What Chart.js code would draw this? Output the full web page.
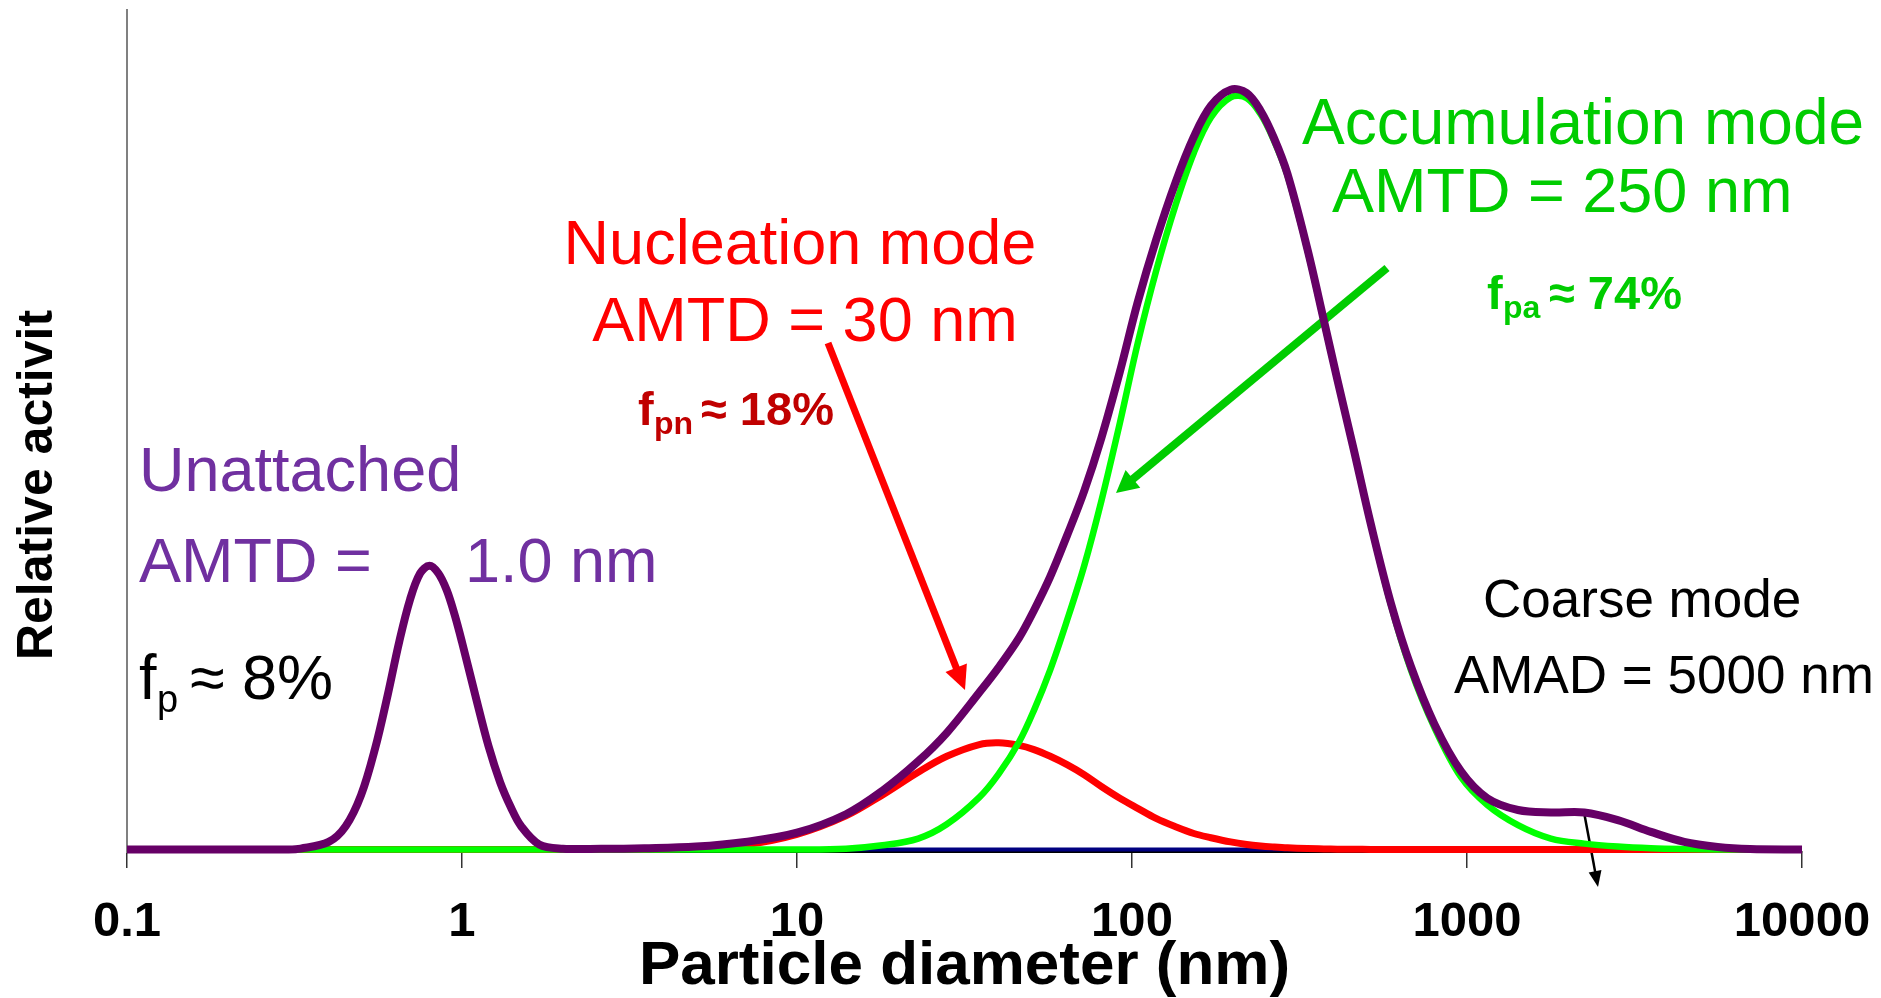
<!DOCTYPE html>
<html>
<head>
<meta charset="utf-8">
<script src="https://cdn.jsdelivr.net/npm/chart.js@4.4.1/dist/chart.umd.min.js"></script>
<style>
  html, body { margin: 0; padding: 0; background: #fff; }
  canvas { display: block; }
</style>
</head>
<body>
<canvas id="myChart" width="1881" height="998"></canvas>
<script>
const fontFamily = "'Liberation Sans', Arial, sans-serif";

// particle diameter (nm)
const diameters = [
  0.1, 0.2, 0.3, 0.33, 0.4, 0.45, 0.5, 0.55, 0.6, 0.65, 0.7, 0.75, 0.8, 0.85,
  0.9, 0.95, 1, 1.1, 1.2, 1.3, 1.4, 1.5, 1.7, 2, 2.6, 3.5, 5, 7, 10, 14, 18, 23,
  28, 35, 40, 46, 51, 57, 64, 72, 81, 92, 104, 118, 135, 153, 172, 197, 220, 242,
  265, 291, 334, 374, 410, 460, 516, 593, 680, 800, 960, 1150, 1420, 1780, 2240,
  2820, 3540, 4450, 5600, 7000, 10000
];

const totalActivity = [
  0, 0, 0, 0.1, 0.9, 2.8, 6.5, 12.0, 18.4, 24.8, 29.8, 32.9, 33.8, 32.9,
  30.9, 28.0, 24.7, 18.1, 12.3, 8.0, 5.0, 2.8, 0.6, 0.1, 0.08, 0.15, 0.35, 0.9, 2.0, 4.2, 7.0, 10.5,
  13.9, 18.7, 21.7, 25.2, 28.5, 32.5, 37.4, 42.7, 49.0, 56.9, 65.2, 72.6, 79.5, 84.9, 88.6, 90.5, 90.1, 88.0,
  84.8, 80.5, 71.5, 63.0, 56.0, 47.5, 38.8, 29.3, 21.8, 14.9, 9.3, 6.1, 4.7, 4.4, 4.4,
  3.5, 2.1, 0.9, 0.3, 0.05, 0
];

const accumulationMode = [
  0, 0, 0, 0, 0, 0, 0, 0, 0, 0, 0, 0, 0, 0,
  0, 0, 0, 0, 0, 0, 0, 0, 0, 0, 0, 0, 0, 0, 0, 0.1, 0.5, 1.3,
  3.0, 6.2, 9.0, 12.8, 16.6, 21.4, 27.3, 33.8, 41.5, 50.8, 60.3, 68.9, 76.8, 83.0, 87.2, 89.6, 89.5, 87.6,
  84.5, 80.3, 71.4, 62.9, 56.0, 47.5, 38.8, 29.1, 21.4, 14.5, 8.6, 5.3, 2.9, 1.3, 0.7,
  0.35, 0.15, 0.05, 0, 0, 0
];

const nucleationMode = [
  0, 0, 0, 0, 0, 0, 0, 0, 0, 0, 0, 0, 0, 0,
  0, 0, 0, 0, 0, 0, 0, 0, 0, 0, 0.01, 0.03, 0.15, 0.55, 1.8, 4.0, 6.5, 9.2,
  11.1, 12.5, 12.7, 12.4, 11.9, 11.1, 10.1, 8.9, 7.5, 6.1, 4.9, 3.7, 2.7, 1.9, 1.4, 0.9, 0.6, 0.42,
  0.3, 0.2, 0.11, 0.07, 0.04, 0.02, 0.01, 0, 0, 0, 0, 0, 0, 0, 0,
  0, 0, 0, 0, 0, 0
];

const baselineDiameters = [0.1, 10000];
const baselineValues = [0, 0];

const tickValues = [0.1, 1, 10, 100, 1000, 10000];
const tickLabels = ["0.1", "1", "10", "100", "1000", "10000"];

function toPoints(xs, ys) {
  return xs.map((x, i) => ({ x: x, y: ys[i] }));
}

function font(size, bold) {
  return (bold ? "bold " : "") + size + "px " + fontFamily;
}

function text(ctx, str, x, y, size, color, bold, align) {
  ctx.font = font(size, bold);
  ctx.fillStyle = color;
  ctx.textAlign = align || "left";
  ctx.textBaseline = "alphabetic";
  ctx.fillText(str, x, y);
}

function arrow(ctx, x1, y1, x2, y2, color, width, headLen, headWidth) {
  const ang = Math.atan2(y2 - y1, x2 - x1);
  const cos = Math.cos(ang);
  const sin = Math.sin(ang);
  const bx = x2 - headLen * cos;
  const by = y2 - headLen * sin;
  ctx.save();
  ctx.strokeStyle = color;
  ctx.fillStyle = color;
  ctx.lineWidth = width;
  ctx.lineCap = "butt";
  ctx.beginPath();
  ctx.moveTo(x1, y1);
  ctx.lineTo(bx + cos, by + sin);
  ctx.stroke();
  ctx.beginPath();
  ctx.moveTo(x2, y2);
  ctx.lineTo(bx + (headWidth / 2) * sin, by - (headWidth / 2) * cos);
  ctx.lineTo(bx - (headWidth / 2) * sin, by + (headWidth / 2) * cos);
  ctx.closePath();
  ctx.fill();
  ctx.restore();
}

const annotations = {
  id: "annotations",
  beforeDatasetsDraw(chart) {
    const ctx = chart.ctx;
    arrow(ctx, 828, 343, 965, 690, "#ff0000", 7, 24, 23);
    arrow(ctx, 1387, 268, 1116, 493, "#00cc00", 8, 22, 23);
    arrow(ctx, 1584, 812, 1598, 887, "#000000", 2.5, 16, 13);
  },
  afterDraw(chart) {
    const ctx = chart.ctx;
    ctx.save();

    // y axis title (clipped in the original)
    ctx.save();
    ctx.translate(52, 485);
    ctx.rotate(-Math.PI / 2);
    text(ctx, "Relative activit", 0, 0, 50, "#000", true, "center");
    ctx.restore();

    // unattached
    text(ctx, "Unattached", 139, 491, 63, "#7030a0");
    text(ctx, "AMTD =", 139, 582, 63, "#7030a0");
    text(ctx, "1.0 nm", 465, 582, 63, "#7030a0");
    text(ctx, "f", 139, 699, 63, "#000");
    text(ctx, "p", 157, 712, 38, "#000");
    text(ctx, "\u2248 8%", 190, 699, 63, "#000");

    // nucleation
    text(ctx, "Nucleation mode", 800, 264, 63, "#ff0000", false, "center");
    text(ctx, "AMTD = 30 nm", 805, 341, 63, "#ff0000", false, "center");
    text(ctx, "f", 638, 425, 47, "#c00000", true);
    text(ctx, "pn", 654, 434, 32, "#c00000", true);
    text(ctx, "\u2248 18%", 701, 425, 47, "#c00000", true);

    // accumulation
    text(ctx, "Accumulation mode", 1302, 144, 64, "#00cc00");
    text(ctx, "AMTD = 250 nm", 1332, 212, 63, "#00cc00");
    text(ctx, "f", 1487, 309, 47, "#00cc00", true);
    text(ctx, "pa", 1503, 318, 32, "#00cc00", true);
    text(ctx, "\u2248 74%", 1549, 309, 47, "#00cc00", true);

    // coarse
    text(ctx, "Coarse mode", 1483, 617, 53, "#000");
    text(ctx, "AMAD = 5000 nm", 1454, 693, 53, "#000");

    ctx.restore();
  },
};

const ctx = document.getElementById("myChart");

new Chart(ctx, {
  type: "line",
  data: {
    datasets: [
      {
        label: "Total",
        data: toPoints(diameters, totalActivity),
        borderColor: "#660066",
        borderWidth: 8,
      },
      {
        label: "Accumulation mode",
        data: toPoints(diameters, accumulationMode),
        borderColor: "#00ff00",
        borderWidth: 6.5,
      },
      {
        label: "Nucleation mode",
        data: toPoints(diameters, nucleationMode),
        borderColor: "#ff0000",
        borderWidth: 7,
      },
      {
        label: "Baseline",
        data: toPoints(baselineDiameters, baselineValues),
        borderColor: "#000080",
        borderWidth: 4,
      },
    ],
  },
  options: {
    responsive: false,
    animation: false,
    clip: false,
    elements: {
      point: { radius: 0, hoverRadius: 0 },
      line: { tension: 0.35, fill: false },
    },
    layout: { padding: { top: 10, right: 79, left: 0, bottom: 0 } },
    plugins: {
      legend: { display: false },
      tooltip: { enabled: false },
    },
    scales: {
      x: {
        type: "logarithmic",
        min: 0.1,
        max: 10000,
        afterBuildTicks: (scale) => {
          scale.ticks = tickValues.map((v) => ({ value: v }));
        },
        afterFit: (scale) => {
          scale.height = 146;
          scale.paddingLeft = 0;
          scale.paddingRight = 0;
        },
        grid: {
          drawOnChartArea: false,
          drawTicks: true,
          tickLength: 16,
          color: "#333",
          lineWidth: 1.5,
        },
        border: { color: "#000", width: 2 },
        ticks: {
          autoSkip: false,
          maxRotation: 0,
          padding: 25,
          color: "#000",
          font: { family: fontFamily, size: 49, weight: "bold" },
          callback: (value, index) => tickLabels[index],
        },
        title: {
          display: true,
          text: "Particle diameter (nm)",
          color: "#000",
          font: { family: fontFamily, size: 62, weight: "bold", lineHeight: 1 },
          padding: { top: 0, bottom: 0 },
        },
      },
      y: {
        min: -0.3,
        max: 100,
        afterFit: (scale) => {
          scale.width = 127;
        },
        ticks: { display: false },
        grid: { display: false },
        border: { color: "#808080", width: 2 },
      },
    },
  },
  plugins: [annotations],
});
</script>
</body>
</html>
